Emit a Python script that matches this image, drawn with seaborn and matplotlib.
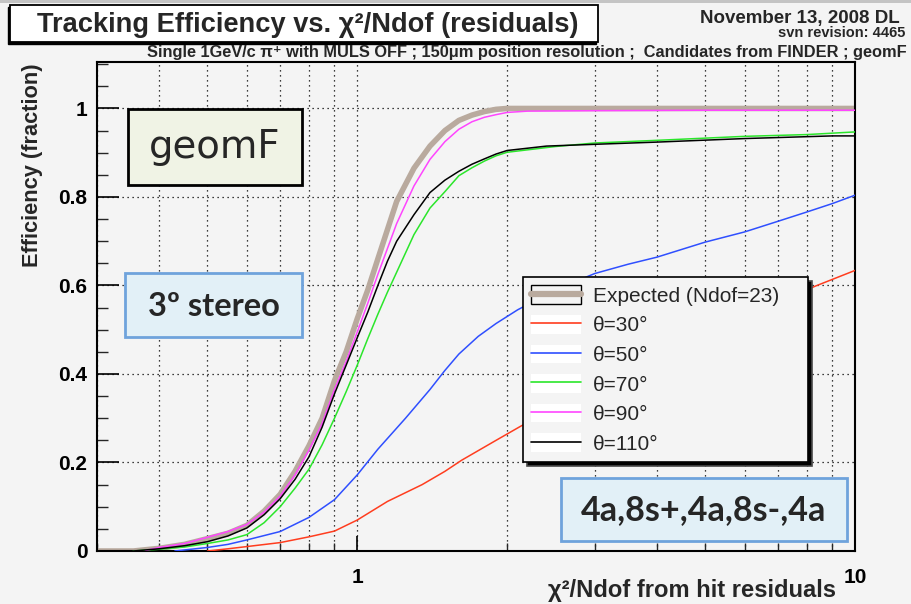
import numpy as np
import pandas as pd
import matplotlib
matplotlib.use("Agg")
import matplotlib.pyplot as plt
import seaborn as sns
from matplotlib import font_manager
from matplotlib.patches import Rectangle
from matplotlib.lines import Line2D
from matplotlib.legend_handler import HandlerTuple
import matplotlib.ticker as mticker

# ---------------- data ----------------
exp_x = [0.30, 0.355, 0.40, 0.45, 0.50, 0.55, 0.60, 0.65, 0.70, 0.75, 0.80, 0.85, 0.90, 0.95,
         1.00, 1.05, 1.10, 1.20, 1.30, 1.40, 1.50, 1.60, 1.70, 1.80, 1.90, 2.0, 2.2, 10.0]
exp_y = [0.0, 0.0, 0.006, 0.015, 0.028, 0.040, 0.058, 0.090, 0.128, 0.180, 0.238, 0.300, 0.385, 0.450,
         0.525, 0.590, 0.660, 0.790, 0.865, 0.915, 0.950, 0.973, 0.985, 0.993, 0.998, 1.0, 1.0, 1.0]

t30_x = [0.50, 0.55, 0.60, 0.70, 0.80, 0.90, 1.00, 1.15, 1.35, 1.50, 1.62, 1.90, 2.13,
         3.0, 4.0, 5.0, 6.0, 7.0, 8.3, 10.0]
t30_y = [0.0, 0.005, 0.010, 0.019, 0.032, 0.045, 0.070, 0.112, 0.150, 0.180, 0.205, 0.250, 0.282,
         0.370, 0.430, 0.480, 0.520, 0.560, 0.598, 0.634]

t50_x = [0.43, 0.50, 0.55, 0.60, 0.70, 0.80, 0.90, 1.00, 1.10, 1.25, 1.40, 1.50, 1.60, 1.75, 1.90,
         2.1, 2.5, 3.0, 3.5, 4.0, 5.0, 6.0, 7.0, 8.0, 9.0, 10.0]
t50_y = [0.0, 0.008, 0.015, 0.025, 0.044, 0.076, 0.116, 0.172, 0.230, 0.300, 0.365, 0.408, 0.445, 0.485, 0.514,
         0.545, 0.590, 0.627, 0.648, 0.664, 0.698, 0.721, 0.745, 0.766, 0.785, 0.804]

t70_x = [0.355, 0.40, 0.45, 0.50, 0.55, 0.60, 0.65, 0.70, 0.75, 0.80, 0.85, 0.90, 0.95, 1.00, 1.05,
         1.10, 1.15, 1.20, 1.30, 1.40, 1.50, 1.60, 1.70, 1.80, 1.90, 2.0, 2.5, 3.0, 4.0, 6.0, 8.0, 10.0]
t70_y = [0.0, 0.004, 0.009, 0.017, 0.025, 0.037, 0.064, 0.100, 0.142, 0.185, 0.240, 0.300, 0.360, 0.420, 0.480,
         0.535, 0.585, 0.630, 0.715, 0.775, 0.812, 0.848, 0.866, 0.881, 0.893, 0.901, 0.914, 0.922, 0.928, 0.937, 0.941, 0.947]

t90_x = [0.375, 0.40, 0.45, 0.50, 0.55, 0.60, 0.65, 0.70, 0.75, 0.80, 0.85, 0.90, 0.95, 1.00, 1.05,
         1.10, 1.20, 1.30, 1.40, 1.50, 1.60, 1.70, 1.80, 1.90, 2.0, 2.2, 3.0, 5.0, 10.0]
t90_y = [0.001, 0.008, 0.017, 0.031, 0.044, 0.060, 0.088, 0.124, 0.172, 0.228, 0.288, 0.365, 0.428, 0.495, 0.560,
         0.625, 0.740, 0.825, 0.885, 0.925, 0.953, 0.970, 0.980, 0.986, 0.991, 0.994, 0.995, 0.996, 0.996]

t110_x = [0.355, 0.40, 0.45, 0.50, 0.55, 0.60, 0.65, 0.70, 0.75, 0.80, 0.85, 0.90, 0.95, 1.00, 1.05,
          1.10, 1.15, 1.20, 1.30, 1.40, 1.50, 1.60, 1.70, 1.80, 1.90, 2.0, 2.4, 3.0, 4.0, 6.0, 9.0, 10.0]
t110_y = [0.0, 0.005, 0.012, 0.021, 0.034, 0.052, 0.082, 0.118, 0.162, 0.213, 0.280, 0.355, 0.420, 0.482, 0.540,
          0.600, 0.655, 0.700, 0.760, 0.810, 0.838, 0.858, 0.874, 0.886, 0.897, 0.905, 0.915, 0.919, 0.924, 0.932, 0.938, 0.938]

exp_label = "Expected (Ndof=23)"
theta_labels = ["θ=30°", "θ=50°", "θ=70°", "θ=90°", "θ=110°"]
theta_x = [t30_x, t50_x, t70_x, t90_x, t110_x]
theta_y = [t30_y, t50_y, t70_y, t90_y, t110_y]
theta_colors = ["#ff3d1f", "#2f4fff", "#2be62b", "#ff45ff", "#000000"]
TAN = "#b9aa9e"

x_major = [1, 10]
y_major = [0, 0.2, 0.4, 0.6, 0.8, 1.0]

# ---------------- style ----------------
sns.set_theme(style="white")
names = {f.name for f in font_manager.fontManager.ttflist}
NARROW = "Liberation Sans Narrow" if "Liberation Sans Narrow" in names else "Liberation Sans"
plt.rcParams['font.family'] = [NARROW, 'DejaVu Sans']
plt.rcParams['axes.linewidth'] = 1.5
BG = "#f4f4f4"

W, H = 911, 604
fig = plt.figure(figsize=(W / 100, H / 100), dpi=100, facecolor=BG)
def fx(px): return px / W
def fy(py): return 1 - py / H

AX_L, AX_R, AX_T, AX_B = 97, 855, 62, 551
ax = fig.add_axes([fx(AX_L), fy(AX_B), (AX_R - AX_L) / W, (AX_B - AX_T) / H])
ax.set_facecolor(BG)
def ax_x(px): return (px - AX_L) / (AX_R - AX_L)
def ax_y(py): return (AX_B - py) / (AX_B - AX_T)

# ---------------- lines ----------------
df_exp = pd.DataFrame({"x": exp_x, "y": exp_y})
sns.lineplot(data=df_exp, x="x", y="y", color=TAN, lw=4.0, estimator=None, sort=False,
             legend=False, ax=ax, zorder=2)

frames = []
for lab, xs, ys in zip(theta_labels, theta_x, theta_y):
    frames.append(pd.DataFrame({"x": xs, "y": ys, "label": lab}))
df_t = pd.concat(frames, ignore_index=True)
sns.lineplot(data=df_t, x="x", y="y", hue="label", hue_order=theta_labels,
             palette=dict(zip(theta_labels, theta_colors)), lw=1.1, estimator=None,
             sort=False, legend=False, ax=ax, zorder=3)

ax.set_xscale("log")
ax.set_xlim(0.3, 10)
ax.set_ylim(0, 1.105)
ax.set_xlabel("")
ax.set_ylabel("")

ax.xaxis.set_major_locator(mticker.FixedLocator(x_major))
ax.xaxis.set_major_formatter(mticker.FuncFormatter(lambda v, p: f"{v:g}"))
ax.xaxis.set_minor_locator(mticker.LogLocator(base=10, subs=np.arange(2, 10)))
ax.xaxis.set_minor_formatter(mticker.NullFormatter())
ax.yaxis.set_major_locator(mticker.FixedLocator(y_major))
ax.yaxis.set_major_formatter(mticker.FuncFormatter(lambda v, p: f"{v:g}"))
ax.yaxis.set_minor_locator(mticker.MultipleLocator(0.05))

grid_kw = dict(color="black", lw=0.9, ls=(0, (1, 3)))
ax.grid(which="both", axis="x", **grid_kw)
ax.grid(which="major", axis="y", **grid_kw)
ax.set_axisbelow(True)

ax.tick_params(axis="x", which="major", direction="in", length=10.5, width=1.2, pad=12,
               labelsize=15, colors="black", bottom=True, top=False)
ax.tick_params(axis="x", which="minor", direction="in", length=5.5, width=1.0, bottom=True, top=False)
ax.tick_params(axis="y", which="major", direction="in", length=15.5, width=1.2, pad=7,
               labelsize=15, colors="black", left=True, right=False)
ax.tick_params(axis="y", which="minor", direction="in", length=7.8, width=1.0, left=True, right=False)
for lbl in ax.get_xticklabels() + ax.get_yticklabels():
    lbl.set_fontweight("bold")
for s in ax.spines.values():
    s.set_color("black")
    s.set_linewidth(1.5)

# ---------------- annotation boxes ----------------
def add_box(x0, y0, x1, y1, fc, ec, lw):
    ax.add_patch(Rectangle((ax_x(x0), ax_y(y1)), ax_x(x1) - ax_x(x0), ax_y(y0) - ax_y(y1),
                           transform=ax.transAxes, facecolor=fc, edgecolor=ec, lw=lw,
                           zorder=4, clip_on=False))

add_box(128, 109, 302, 185, "#f0f3e5", "black", 2.0)
add_box(125, 273, 302, 337, "#e2f0f7", "#6fa3dc", 2.0)
add_box(561, 478, 847, 541, "#e2f0f7", "#6fa3dc", 2.0)

renderer = fig.canvas.get_renderer()
def fit(t, target, dim="w"):
    for _ in range(3):
        bb = t.get_window_extent(renderer)
        cur = bb.width if dim == "w" else bb.height
        t.set_fontsize(t.get_fontsize() * target / cur)
    return t

t1 = ax.text(ax_x(215), ax_y(147), "geomF", transform=ax.transAxes, ha="center", va="center",
             family=["DejaVu Sans"], fontsize=26, zorder=5)
fit(t1, 132)
t2 = ax.text(ax_x(214), ax_y(306), "3º stereo", transform=ax.transAxes, ha="center", va="center",
             family=["Lato", "DejaVu Sans"], fontweight="bold", fontsize=24, zorder=5)
fit(t2, 132)
t3 = ax.text(ax_x(704), ax_y(510), "4a,8s+,4a,8s-,4a", transform=ax.transAxes, ha="center", va="center",
             family=["Lato", "DejaVu Sans"], fontweight="bold", fontsize=24, zorder=5)
fit(t3, 245)

# ---------------- legend ----------------
handles = [(Rectangle((0, 0), 1, 1, facecolor=BG, edgecolor="black", lw=1.0),
            Line2D([], [], color=TAN, lw=4.5))]
for c in theta_colors:
    handles.append((Rectangle((0, 0), 1, 1, facecolor="white", edgecolor="none"),
                    Line2D([], [], color=c, lw=1.2)))
labels = [exp_label] + theta_labels
leg = ax.legend(handles, labels, handler_map={tuple: HandlerTuple(ndivide=1)},
                loc="upper left", mode="expand",
                bbox_to_anchor=(fx(523), fy(461), (808 - 523) / W, (461 - 277) / H),
                bbox_transform=fig.transFigure, frameon=True, fancybox=False,
                edgecolor="black", facecolor=BG, framealpha=1,
                shadow={"ox": 3, "oy": -3, "alpha": 1, "facecolor": "black"},
                prop={"family": ["Liberation Sans", "DejaVu Sans"], "size": 15},
                handlelength=2.4, handleheight=1.0, handletextpad=0.55,
                labelspacing=0.44, borderpad=0.4, borderaxespad=0)
leg.get_frame().set_linewidth(1.2)
leg.set_zorder(6)

# ---------------- figure-level texts ----------------
fig.patches.append(Rectangle((0, fy(3)), 1, 3 / H, transform=fig.transFigure,
                             facecolor="#c4c4c4", edgecolor="none"))
fig.patches.append(Rectangle((fx(8), fy(44)), (598 - 10) / W, (44 - 7) / H, transform=fig.transFigure,
                             facecolor="black", edgecolor="black"))
fig.patches.append(Rectangle((fx(10), fy(42)), (598 - 10) / W, (42 - 5) / H, transform=fig.transFigure,
                             facecolor="white", edgecolor="black", lw=1.3))

tt = fig.text(fx(37), fy(25), "Tracking Efficiency vs. χ²/Ndof (residuals)", ha="left", va="center",
              fontweight="bold", fontsize=22)
fit(tt, 541)
ts = fig.text(fx(907), fy(52), "Single 1GeV/c π⁺ with MULS OFF ; 150μm position resolution ;  Candidates from FINDER ; geomF",
              ha="right", va="center", fontweight="bold", fontsize=11)
fit(ts, 757)
td = fig.text(fx(900), fy(18), "November 13, 2008 DL", ha="right", va="center", fontweight="bold", fontsize=13.5)
tv = fig.text(fx(905), fy(33), "svn revision: 4465", ha="right", va="center", fontweight="bold", fontsize=10.5)
tyl = fig.text(fx(33), fy(63), "Efficiency (fraction)", rotation=90, ha="center", va="top",
               fontweight="bold", fontsize=13)
fit(tyl, 203, dim="h")
txl = fig.text(fx(836), fy(591), "χ²/Ndof from hit residuals", ha="right", va="center",
               fontweight="bold", fontsize=13)
fit(txl, 288)

fig.savefig("out.png", dpi=100, facecolor=BG)
